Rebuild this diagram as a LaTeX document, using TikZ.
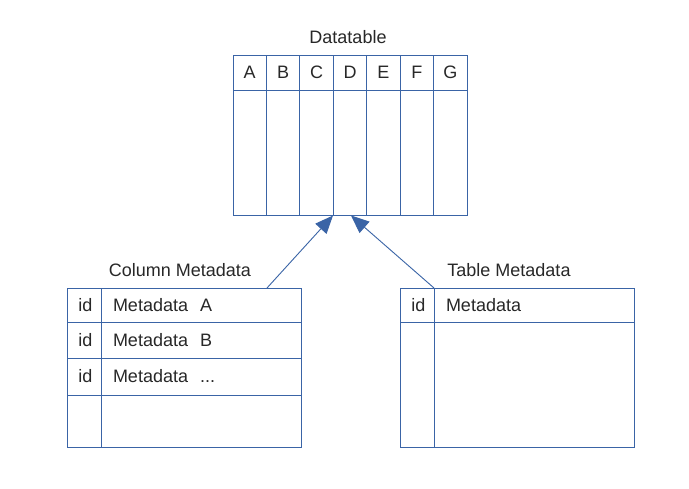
\documentclass[tikz,border=0pt]{standalone}
\usepackage{fontspec}
\setmainfont{Liberation Sans}
\usetikzlibrary{arrows.meta}
\definecolor{lineblue}{RGB}{58,100,166}
\definecolor{txt}{RGB}{40,40,40}
\begin{document}
\begin{tikzpicture}[x=1pt,y=-1pt,
  cell/.style={draw=lineblue, line width=0.9pt, rectangle, inner sep=0pt, outer sep=0pt,
    anchor=north west, text=txt, font=\fontsize{18}{20}\selectfont},
  idcell/.style={cell, minimum width=34pt},
  lefttext/.style={cell, align=left, inner xsep=12pt, text width=176pt},
  title/.style={text=txt, font=\fontsize{18}{20}\selectfont, inner sep=0pt},
  conn/.style={draw=lineblue, line width=0.9pt, -{Triangle[length=18pt,width=15pt]}}]
\useasboundingbox (0,0) rectangle (689,489);
\fill[white] (0,0) rectangle (689,489);
% Datatable
\node[title] (dtt) at (348,37) {Datatable};
\foreach \l [count=\i from 0] in {A,B,C,D,E,F,G} {
  \node[cell, minimum width=33.43pt, minimum height=35pt] (h\l) at ({233+\i*33.43},55) {\l};
  \node[cell, minimum width=33.43pt, minimum height=125pt] (b\l) at ({233+\i*33.43},90) {};
}
% Column Metadata
\node[title] (cmt) at (180,270) {Column Metadata};
\node[idcell, minimum height=34pt] (ci1) at (67,288) {\kern3pt id};
\node[lefttext, minimum height=34pt] (cm1) at (101,288) {Metadata\ \ A};
\node[idcell, minimum height=36pt] (ci2) at (67,322) {\kern3pt id};
\node[lefttext, minimum height=36pt] (cm2) at (101,322) {Metadata\ \ B};
\node[idcell, minimum height=37pt] (ci3) at (67,358) {\kern3pt id};
\node[lefttext, minimum height=37pt] (cm3) at (101,358) {Metadata\ \ ...};
\node[idcell, minimum height=52pt] (ci4) at (67,395) {};
\node[lefttext, minimum height=52pt] (cm4) at (101,395) {};
% Table Metadata
\node[title] (tmt) at (509,270) {Table Metadata};
\node[idcell, minimum height=34pt] (ti1) at (400,288) {\kern3pt id};
\node[lefttext, minimum height=34pt] (tm1) at (434,288) {Metadata};
\node[idcell, minimum height=125pt] (ti2) at (400,322) {};
\node[lefttext, minimum height=125pt] (tm2) at (434,322) {};
% connectors
\coordinate (s1) at (267,288);
\coordinate (t1) at (333,215.5);
\coordinate (t2) at (351,215.5);
\draw[conn] (s1) -- (t1);
\draw[conn] (tm1.north west) -- (t2);
\end{tikzpicture}
\end{document}
